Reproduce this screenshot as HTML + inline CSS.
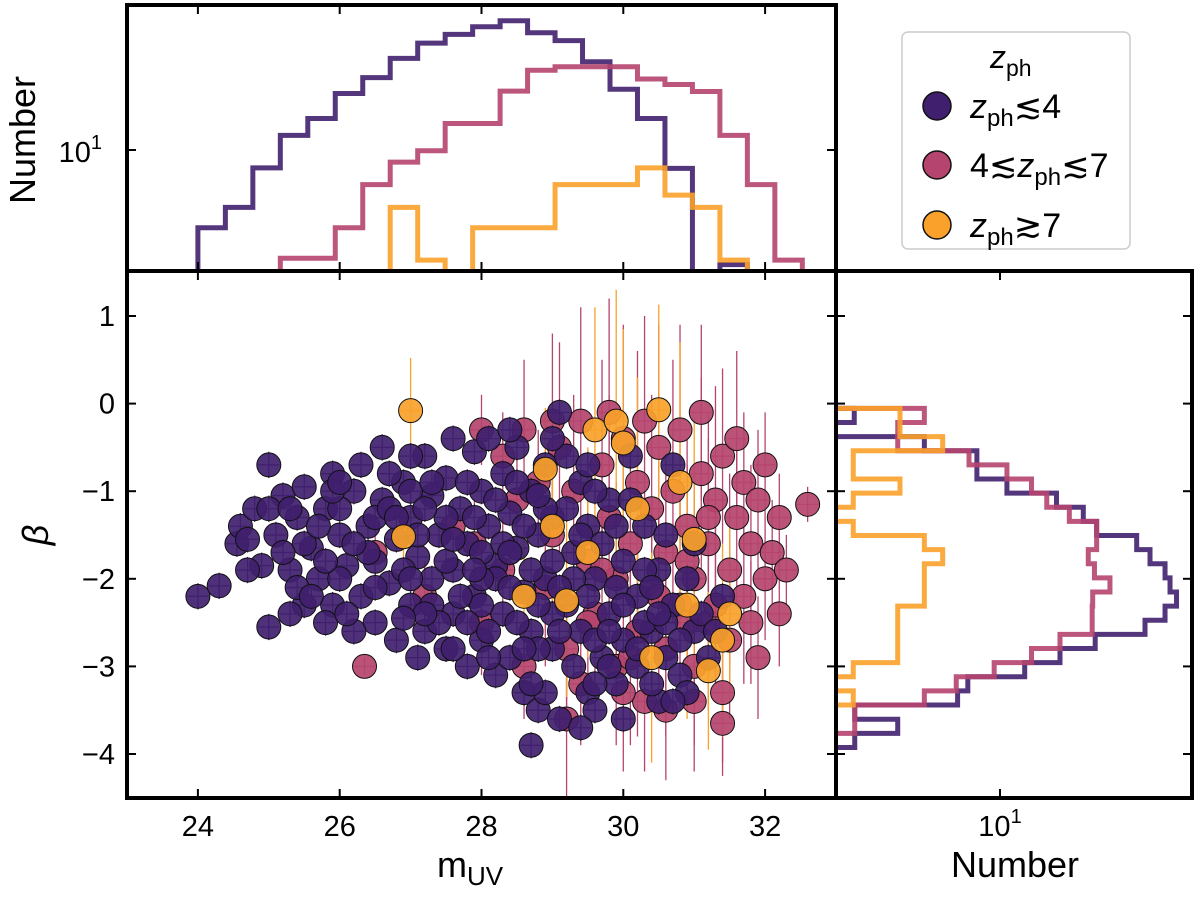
<!DOCTYPE html>
<html><head><meta charset="utf-8"><style>
html,body{margin:0;padding:0;background:#fff;}
svg{display:block;font-family:"Liberation Sans","DejaVu Sans",sans-serif;}
</style></head><body>
<svg id="fig" width="1200" height="897" viewBox="0 0 1200 897" xmlns="http://www.w3.org/2000/svg">
<defs>
<clipPath id="cMain"><rect x="127" y="271" width="709" height="527"/></clipPath>
<clipPath id="cTop"><rect x="127" y="5" width="709" height="266"/></clipPath>
<clipPath id="cRight"><rect x="836" y="271" width="356" height="527"/></clipPath>
</defs>
<rect width="1200" height="897" fill="#fff"/>
<g id="gTop" clip-path="url(#cTop)"></g>
<g id="gRight" clip-path="url(#cRight)"></g>
<g id="gMain" clip-path="url(#cMain)"></g>
<g id="gAxes"></g>
<g id="legend">
<rect x="902" y="32" width="228" height="217" rx="6" fill="#fff" stroke="#ccc" stroke-width="1.5"/>
<text x="990" y="68" font-size="32" font-style="italic">z<tspan font-size="23" font-style="normal" dy="8">ph</tspan></text>
<g><circle cx="937" cy="106" r="14" fill="#40206e" stroke="#111" stroke-width="1.5"/><text x="970" y="118" font-size="34"><tspan font-style="italic">z</tspan><tspan font-size="24" dy="8">ph</tspan><tspan dy="-8">≲4</tspan></text></g>
<g><circle cx="937" cy="165" r="14" fill="#b5446e" stroke="#111" stroke-width="1.5"/><text x="970" y="177" font-size="34">4≲<tspan font-style="italic">z</tspan><tspan font-size="24" dy="8">ph</tspan><tspan dy="-8">≲7</tspan></text></g>
<g><circle cx="937" cy="225" r="14" fill="#f9a12a" stroke="#111" stroke-width="1.5"/><text x="970" y="237" font-size="34"><tspan font-style="italic">z</tspan><tspan font-size="24" dy="8">ph</tspan><tspan dy="-8">≳7</tspan></text></g>
</g>
</svg>
<script>
// ---- data ----
const topEdgeStart = 24.0, topBinWidth = 0.3875;
const topPurple = [3.8,4.9,8.0,12,14.8,20.2,24.6,31.3,37.8,42.2,46.4,50,43,39,30,21.3,14.8,7.96,1,2.4];
const topPink = [0,0,0,2.6,2.6,3.8,6.5,8.6,9.9,13.9,13.9,20.8,27,28.2,28.2,28.2,24.2,22.6,20.7,12,6.5,2.54];
const topOrange = [0,0,0,0,0,0,0,4.9,2.54,1,3.8,3.8,3.8,6.5,6.5,6.5,8.0,5.7,4.9,2.54];
const rightEdgeStart = -0.054, rightBinWidth = 0.1613;
const rightPurple = [1.63,1,3.9,7.5,7.5,10.9,20.2,28.2,33.3,54.8,64.7,78,83,90,78,60.8,32.7,21.1,13.6,6.7,5.9,1.64,2.8,1.64];
const rightPink = [3.9,2.8,2.8,6.8,10.9,14.8,17.9,23.7,33.3,33.3,30,32.4,39.3,31.7,31.5,31.5,21.1,14.8,9.3,5.8,3.9,1.64,1.64,1];
const rightOrange = [2.88,2.88,4.9,1.61,1.61,2.88,1.61,1,1.61,3.9,4.9,3.9,3.9,3.9,2.8,2.8,2.8,2.8,1.61,1,1.61,1,0,0];
const purplePts = [[24.0,-2.2],[24.3,-2.08],[24.55,-1.6],[24.6,-1.4],[24.8,-1.2],[24.9,-1.85],[25.0,-2.55],[25.0,-0.7],[25.1,-1.5],[25.2,-1.05],[25.3,-1.9],[25.4,-1.3],[25.5,-2.3],[25.5,-0.95],[25.6,-1.65],[25.7,-2.0],[25.8,-1.2],[25.9,-0.8],[25.9,-2.3],[26.0,-1.5],[26.1,-1.85],[26.2,-1.0],[26.3,-2.2],[26.3,-0.7],[26.4,-1.4],[26.5,-2.5],[26.5,-1.8],[26.6,-0.5],[26.6,-1.1],[26.7,-2.05],[26.8,-1.55],[26.8,-2.7],[26.9,-0.9],[27.0,-1.3],[27.0,-2.3],[27.1,-1.75],[27.2,-0.6],[27.2,-2.6],[27.3,-1.05],[27.3,-2.0],[27.4,-1.5],[27.5,-2.8],[27.5,-0.85],[27.6,-1.9],[27.6,-2.4],[27.7,-1.2],[27.8,-1.6],[27.8,-3.0],[27.9,-0.55],[27.9,-2.2],[28.0,-1.0],[28.0,-2.7],[28.1,-1.4],[28.1,-0.4],[28.2,-1.85],[28.2,-3.1],[28.3,-2.4],[28.3,-0.8],[28.4,-1.25],[28.4,-2.9],[28.5,-1.65],[28.5,-0.5],[28.6,-2.15],[28.6,-3.3],[28.7,-1.0],[28.7,-2.6],[28.7,-3.9],[28.8,-1.5],[28.8,-3.5],[28.9,-0.7],[28.9,-2.0],[29.0,-2.8],[29.0,-1.3],[29.1,-3.6],[29.1,-0.1],[29.2,-2.3],[29.3,-1.7],[29.3,-3.0],[29.4,-0.9],[29.4,-2.6],[29.5,-1.4],[29.5,-3.3],[29.6,-2.0],[29.7,-2.9],[29.8,-1.1],[29.8,-2.4],[29.9,-3.2],[30.0,-1.8],[30.0,-2.7],[30.1,-0.6],[30.2,-3.0],[30.2,-2.2],[30.3,-1.4],[30.4,-2.6],[30.5,-3.4],[30.5,-1.9],[30.6,-2.9],[30.7,-0.7],[30.7,-2.3],[30.8,-3.1],[31.0,-2.6],[31.0,-1.6],[31.2,-2.9],[31.4,-2.2],[28.2,-2.0],[27.0,-1.0],[26.0,-2.0],[25.5,-1.6],[26.5,-1.3],[27.5,-1.3],[28.0,-1.7],[29.0,-2.4],[29.6,-2.7],[30.3,-2.5],[27.3,-2.3],[26.9,-1.9],[25.2,-1.7],[25.8,-2.5],[26.2,-2.6],[27.1,-2.9],[27.6,-0.4],[28.5,-2.5],[29.2,-1.2],[29.9,-2.1],[30.6,-2.5],[28.0,-2.3],[27.8,-2.5],[26.7,-1.2],[25.3,-2.4],[24.7,-1.9],[28.8,-2.8],[29.6,-3.5],[30.9,-2.0],
[25.0,-1.2],[25.4,-2.1],[25.7,-1.4],[26.0,-1.2],[26.1,-2.4],[26.4,-1.7],[26.7,-0.8],[26.8,-1.3],[27.0,-2.0],[27.1,-1.5],[27.3,-0.9],[27.4,-2.5],[27.5,-1.8],[27.7,-2.2],[27.8,-0.9],[27.9,-1.3],[28.0,-2.0],[28.1,-2.6],[28.2,-1.1],[28.3,-1.6],[28.4,-2.1],[28.5,-0.9],[28.6,-1.4],[28.6,-2.8],[28.7,-1.9],[28.8,-2.3],[28.9,-1.2],[29.0,-1.8],[29.1,-2.6],[29.2,-0.6],[29.3,-2.0],[29.4,-1.5],[29.5,-2.2],[29.6,-1.0],[29.7,-1.6],[29.8,-3.0],[29.9,-1.4],[30.0,-2.3],[30.1,-1.1],[30.2,-2.8],[30.3,-1.9],[30.4,-3.2],[30.5,-2.4],[30.6,-1.5],[30.8,-2.7],[30.9,-3.3],[31.1,-2.4],[31.3,-2.6],[26.2,-1.6],[25.9,-1.0],[27.6,-2.8],[28.9,-3.3],[29.4,-3.7],[29.0,-0.4],[28.4,-0.3],[27.0,-0.6],[26.0,-0.9],[25.6,-2.2],[24.7,-1.55],[25.3,-1.2],[27.2,-2.4],[28.1,-2.9],[28.7,-3.2],[30.0,-3.6],[30.7,-3.4],[29.6,-3.2],[26.5,-2.1],[27.2,-1.2],[27.9,-1.9],[28.4,-1.7],[29.1,-2.1],[29.8,-2.6],[30.4,-2.1],[26.9,-2.45],[25.8,-1.8],[28.8,-1.05],[29.5,-0.7],[27.6,-1.55]];
const pinkPts = [[26.35,-3.0,0.1],[26.5,-1.7,0.3],[27.2,-2.2,0.4],[27.6,-1.4,0.3],[27.9,-1.6,0.5],[28.0,-2.5,0.6],[28.3,-0.6,0.5],[28.5,-1.1,0.7],[28.6,-0.3,0.8],[28.8,-0.9,0.6],[28.9,-2.1,0.9],[29.0,-1.5,1.0],[29.1,-0.5,1.2],[29.2,-2.8,0.8],[29.3,-1.0,1.1],[29.4,-3.2,0.7],[29.4,-0.2,1.3],[29.5,-1.8,1.0],[29.6,-2.4,0.9],[29.7,-0.7,1.2],[29.8,-1.3,1.4],[29.9,-3.0,0.9],[29.9,-2.0,1.1],[30.0,-0.4,1.3],[30.1,-1.6,1.0],[30.2,-2.6,1.2],[30.2,-0.9,1.5],[30.3,-3.4,0.8],[30.4,-1.2,1.3],[30.4,-2.1,1.0],[30.5,-0.5,1.4],[30.6,-1.7,1.1],[30.6,-2.8,1.0],[30.7,-1.0,1.5],[30.8,-2.3,1.2],[30.8,-0.3,1.2],[30.9,-1.4,1.0],[31.0,-3.0,0.9],[31.0,-2.0,1.3],[31.1,-0.8,1.1],[31.2,-1.6,1.2],[31.2,-2.5,1.0],[31.3,-1.1,1.3],[31.4,-3.3,0.8],[31.4,-0.6,1.0],[31.5,-1.9,1.1],[31.5,-2.7,0.9],[31.6,-1.3,1.0],[31.7,-2.2,1.0],[31.7,-0.9,0.8],[31.8,-1.6,0.9],[31.9,-2.9,0.7],[31.9,-1.1,0.8],[32.0,-2.0,0.7],[32.0,-0.7,0.6],[32.1,-1.7,0.6],[32.2,-2.4,0.6],[32.2,-1.3,0.5],[32.3,-1.9,0.4],[32.6,-1.15,0.2],[31.4,-3.65,0.6],[30.6,-3.5,0.8],[29.2,-3.6,0.9],[28.6,-3.0,0.6],[30.0,-3.3,0.9],[31.0,-3.4,0.8],[29.5,-2.5,1.0],[30.5,-2.2,1.1],[31.3,-2.3,0.9],[28.3,-1.9,0.6],[29.0,-0.2,1.0],[29.8,-0.1,1.3],[31.1,-0.1,1.0],[30.9,-2.5,1.0],[28.0,-0.3,0.4],[30.3,-0.2,1.2],[31.6,-0.4,1.0],[30.9,-1.8,1.1],[31.8,-2.5,0.7],[30.1,-2.9,1.0],[29.7,-1.9,1.1],[31.2,-1.3,1.2]];
const orangePts = [[27.0,-0.08,0.6],[28.9,-0.75,0.7],[26.9,-1.52,0.3],[29.6,-0.3,1.4],[29.9,-0.2,1.5],[30.0,-0.45,1.3],[30.5,-0.07,1.2],[30.8,-0.9,1.6],[31.0,-1.55,1.4],[30.9,-2.3,1.3],[31.5,-2.4,1.0],[31.4,-2.7,1.1],[31.2,-3.05,0.9],[30.4,-2.9,1.2],[29.0,-1.4,1.0],[29.5,-1.7,1.2],[28.6,-2.2,0.8],[29.2,-2.25,1.1],[30.2,-1.2,1.5]];
const xTicks = [24,26,28,30,32];
const yTicks = [1,0,-1,-2,-3,-4];

// ---- scales ----
const X = m => 127 + (m - 23) * 70.9;
const Y = b => 403.6 - b * 87.6;
const Yt = c => c > 0 ? 150 - (Math.log10(c) - 1) * 185 : 400;
const Xr = c => c > 0 ? 1000 + (Math.log10(c) - 1) * 185 : 700;
const NS = 'http://www.w3.org/2000/svg';
function mk(tag, attrs, parent) { const e = document.createElementNS(NS, tag); for (const k in attrs) e.setAttribute(k, attrs[k]); parent.appendChild(e); return e; }

const colP = '#40206e', colK = '#b5446e', colO = '#f9a12a';

// top histograms
const gTop = document.getElementById('gTop');
function topHist(vals, col, name) {
  let d = 'M' + X(topEdgeStart) + ',400';
  vals.forEach((v, i) => { const y = Yt(v); d += ' L' + X(topEdgeStart + i * topBinWidth) + ',' + y + ' L' + X(topEdgeStart + (i + 1) * topBinWidth) + ',' + y; });
  d += ' L' + X(topEdgeStart + vals.length * topBinWidth) + ',400';
  const p = mk('path', {d: d, fill: 'none', stroke: col, 'stroke-width': 5, 'stroke-opacity': 0.9}, gTop);
  
  
}
topHist(topPurple, colP, 'top-hist-low-z');
topHist(topPink, colK, 'top-hist-mid-z');
topHist(topOrange, colO, 'top-hist-high-z');

// right histograms
const gRight = document.getElementById('gRight');
function rightHist(vals, col, name) {
  let d = 'M700,' + Y(rightEdgeStart);
  vals.forEach((v, i) => { const x = Xr(v); d += ' L' + x + ',' + Y(rightEdgeStart - i * rightBinWidth) + ' L' + x + ',' + Y(rightEdgeStart - (i + 1) * rightBinWidth); });
  d += ' L700,' + Y(rightEdgeStart - vals.length * rightBinWidth);
  const p = mk('path', {d: d, fill: 'none', stroke: col, 'stroke-width': 5, 'stroke-opacity': 0.9}, gRight);
  
  
}
rightHist(rightPurple, colP, 'right-hist-low-z');
rightHist(rightPink, colK, 'right-hist-mid-z');
rightHist(rightOrange, colO, 'right-hist-high-z');

// scatter
const gMain = document.getElementById('gMain');
function errs(pts, col) {
  pts.forEach(p => {
    const e = p[2] || 0.15;
    const l = mk('line', {x1: X(p[0]), x2: X(p[0]), y1: Y(p[1] - e), y2: Y(p[1] + e), stroke: col, 'stroke-width': 1.3}, gMain);
    
    
    const h = mk('line', {x1: X(p[0] - 0.15), x2: X(p[0] + 0.15), y1: Y(p[1]), y2: Y(p[1]), stroke: col, 'stroke-width': 1.3}, gMain);
    
    
  });
}
errs(pinkPts, colK);
errs(orangePts, colO);
function dots(pts, col, name) {
  pts.forEach(p => {
    const c = mk('circle', {cx: X(p[0]), cy: Y(p[1]), r: 12, fill: col, 'fill-opacity': 0.92, stroke: '#111', 'stroke-width': 1}, gMain);
    
    
  });
}
dots(pinkPts, colK, 'point-mid-z');
errs(purplePts, colP);
dots(purplePts, colP, 'point-low-z');
dots(orangePts, colO, 'point-high-z');

// axes
const gA = document.getElementById('gAxes');
function frame(x, y, w, h, name) {
  const r = mk('rect', {x: x, y: y, width: w, height: h, fill: 'none', stroke: '#000', 'stroke-width': 4}, gA);
  
  
}
frame(127, 5, 709, 266, 'top-frame');
frame(127, 271, 709, 527, 'main-frame');
frame(836, 271, 356, 527, 'right-frame');
function tick(x1, y1, x2, y2) { const t = mk('line', {x1: x1, y1: y1, x2: x2, y2: y2, stroke: '#000', 'stroke-width': 2}, gA);   }
function txt(x, y, s, size, anchor, name) { const t = mk('text', {x: x, y: y, 'font-size': size, 'text-anchor': anchor}, gA); t.textContent = s;   return t; }
xTicks.forEach(v => {
  const x = X(v);
  tick(x, 798, x, 789); tick(x, 271, x, 280);
  tick(x, 271, x, 262); tick(x, 5, x, 14);
  txt(x, 836, String(v), 29, 'middle', 'x-tick-label');
});
yTicks.forEach(v => {
  const y = Y(v);
  tick(127, y, 136, y); tick(836, y, 827, y);
  tick(836, y, 845, y); tick(1192, y, 1183, y);
  txt(115, y + 10, v < 0 ? '\u2212' + (-v) : String(v), 29, 'end', 'y-tick-label');
});
// log ticks
tick(127, Yt(10), 136, Yt(10)); tick(836, Yt(10), 827, Yt(10));
tick(Xr(10), 798, Xr(10), 789); tick(Xr(10), 271, Xr(10), 280);
const lt = txt(102, 162, '10', 29, 'end', 'top-log-tick-label');
const sup1 = mk('tspan', {'font-size': 20, dy: -13}, lt); sup1.textContent = '1';
const lt2 = txt(1000, 836, '10', 29, 'middle', 'right-log-tick-label');
const sup2 = mk('tspan', {'font-size': 20, dy: -13}, lt2); sup2.textContent = '1';
// axis titles
const yt = txt(0, 0, 'Number', 36, 'middle', 'top-y-axis-title');
yt.setAttribute('transform', 'translate(35,140) rotate(-90)');
const bt = txt(0, 0, '\u03b2', 36, 'middle', 'y-axis-title');
bt.setAttribute('font-style', 'italic');
bt.setAttribute('transform', 'translate(48,535) rotate(-90)');
const mt = txt(470, 877, 'm', 36, 'middle', 'x-axis-title');
const sub = mk('tspan', {'font-size': 26, dy: 8}, mt); sub.textContent = 'UV';
txt(1015, 877, 'Number', 36, 'middle', 'right-x-axis-title');
</script>
</body></html>
